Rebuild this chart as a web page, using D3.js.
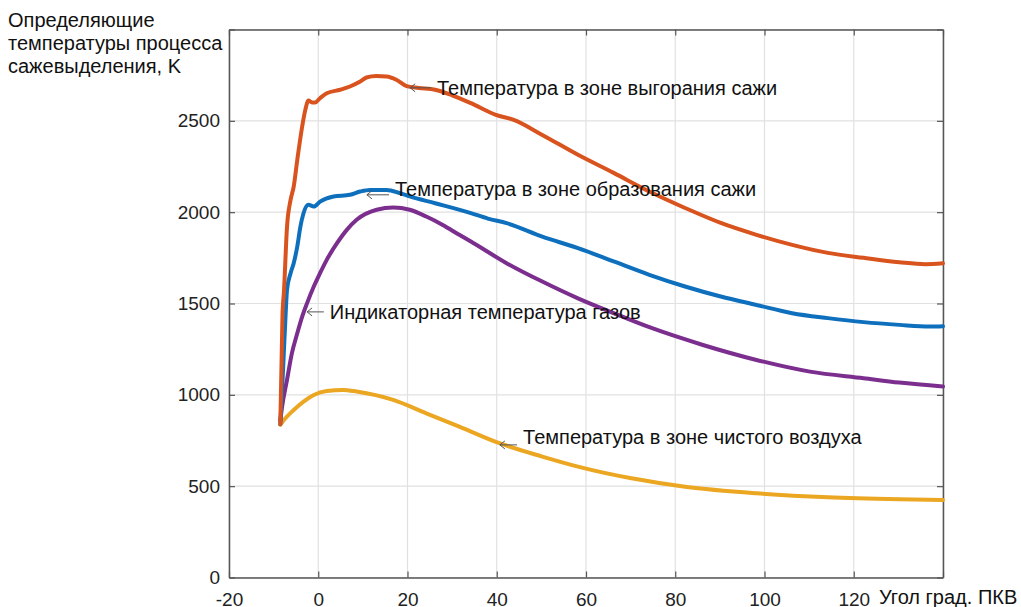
<!DOCTYPE html>
<html><head><meta charset="utf-8">
<script src="https://cdn.jsdelivr.net/npm/d3@7/dist/d3.min.js"></script>
<style>
body{margin:0;background:#fff;}
svg{display:block;font-family:"Liberation Sans",Arial,sans-serif;}
</style></head>
<body><svg id="c" width="1021" height="607"></svg>
<script>
// ---- data (angle, K) ----
const burnoutAngle = [-8.5,-8.0,-7.7,-7.0,-6.2,-5.5,-4.7,-3.6,-2.9,-2.2,-1.4,-0.7,0.4,1.9,4.9,7.1,9.4,10.8,13.0,15.3,17.5,19.8,22.5,26.2,30.0,34.2,39.8,43.8,50.2,58.2,66.2,74.2,82.2,90.2,98.2,106.2,114.2,122.2,130.2,136.0,140.0];
const burnoutTemp  = [840,1450,1560,1920,2067,2140,2286,2469,2560,2611,2600,2600,2624,2651,2670,2688,2715,2737,2745,2743,2725,2690,2680,2670,2640,2597,2533,2505,2423,2314,2215,2113,2023,1941,1876,1821,1777,1750,1726,1715,1720];

const formationAngle = [-8.5,-8.0,-7.3,-7.0,-6.2,-5.5,-4.7,-4.0,-3.3,-2.2,-1.0,0.4,3.4,7.1,9.4,11.6,15.3,18.3,20.5,26.2,34.2,38.0,42.2,50.2,58.2,66.2,74.2,82.2,90.2,98.2,106.2,114.2,122.2,130.2,137.0,140.0];
const formationTemp  = [840,1081,1447,1575,1666,1721,1812,1921,1994,2040,2031,2058,2086,2095,2113,2122,2122,2104,2086,2049,1995,1965,1940,1866,1803,1730,1657,1593,1538,1492,1447,1420,1398,1383,1374,1376];

const gasAngle = [-8.5,-8.1,-7.0,-5.9,-4.7,-3.6,-2.5,-1.0,0.4,1.9,4.2,6.4,8.6,13.1,16.8,20.5,24.2,27.9,31.6,34.2,42.2,50.2,58.2,66.2,74.2,86.2,98.2,110.2,122.2,130.2,140.0];
const gasTemp  = [860,935,1082,1228,1337,1428,1502,1593,1666,1739,1830,1903,1958,2013,2025,2013,1976,1930,1876,1839,1721,1620,1528,1447,1370,1273,1191,1127,1091,1067,1045];

const airAngle = [-8.5,-7.7,-5.5,-3.3,-1.0,1.9,5.6,8.6,16.8,24.2,31.6,40.6,50.2,58.2,70.2,82.2,98.2,114.2,130.2,140.0];
const airTemp  = [835,862,917,963,999,1021,1027,1018,972,899,826,735,662,607,543,497,461,439,428,424];

const seriesNames  = ["burnout","formation","gas","air"];
const seriesColors = ["#d9531e","#0e6fbd","#7b2e8d","#eba622"];

const xTicks = [-20,0,20,40,60,80,100,120,140];
const xTickLabels = ["-20","0","20","40","60","80","100","120",""];
const yTicks = [0,500,1000,1500,2000,2500,3000];
const yTickLabels = ["0","500","1000","1500","2000","2500",""];

const yTitle = ["Определяющие","температуры процесса","сажевыделения, K"];
const xTitle = "Угол град. ПКВ";

// annotations: label, arrow tip (angle, K), text start angle, text centre K
const annLabels = ["Температура в зоне выгорания сажи","Температура в зоне образования сажи","Индикаторная температура газов","Температура в зоне чистого воздуха"];
const annTipAngle = [20.6,10.9,-2.5,40.7];
const annTipTemp  = [2681,2095,1454,726];
const annTextAngle = [26.6,17.2,2.6,45.9];
const annTextTemp  = [2681,2128,1454,769];

// ---- drawing ----
const svg = d3.select("#c");
const L=229, R=943, T=29.5, B=577.5;
const x = d3.scaleLinear().domain([-20,140]).range([L,R]);
const y = d3.scaleLinear().domain([0,3000]).range([B,T]);

// grid
const g = svg.append("g");
g.selectAll("line.vg").data(xTicks).enter().append("line")
  .attr("x1",d=>x(d)).attr("x2",d=>x(d)).attr("y1",T).attr("y2",B)
  .attr("stroke","#e1e1e1").attr("stroke-width",1.2);
g.selectAll("line.hg").data(yTicks).enter().append("line")
  .attr("y1",d=>y(d)).attr("y2",d=>y(d)).attr("x1",L).attr("x2",R)
  .attr("stroke","#e1e1e1").attr("stroke-width",1.2);

// axes with d3 axis
const axB = d3.axisBottom(x).tickValues(xTicks).tickFormat((d,i)=>xTickLabels[i]).tickSizeInner(-6).tickSizeOuter(0).tickPadding(15);
const axL = d3.axisLeft(y).tickValues(yTicks).tickFormat((d,i)=>yTickLabels[i]).tickSizeInner(-6).tickSizeOuter(0).tickPadding(9);
const axT = d3.axisTop(x).tickValues(xTicks).tickFormat("").tickSizeInner(-6).tickSizeOuter(0);
const axR = d3.axisRight(y).tickValues(yTicks).tickFormat("").tickSizeInner(-6).tickSizeOuter(0);
[[axB,`translate(0,${B})`],[axL,`translate(${L},0)`],[axT,`translate(0,${T})`],[axR,`translate(${R},0)`]].forEach(([a,t])=>{
  const ga = svg.append("g").attr("transform",t).call(a);
  ga.selectAll("path.domain").attr("stroke","#555").attr("stroke-width",1.5);
  ga.selectAll(".tick line").attr("stroke","#555").attr("stroke-width",1.2);
  ga.selectAll("text").attr("fill","#222").style("font-size","19px").style("font-family","'Liberation Sans',Arial,sans-serif");
});

// curves
const allAngles=[burnoutAngle,formationAngle,gasAngle,airAngle];
const allTemps=[burnoutTemp,formationTemp,gasTemp,airTemp];
const line = d3.line().x(d=>x(d[0])).y(d=>y(d[1])).curve(d3.curveMonotoneX);
[3,2,1,0].forEach(i=>{
  const pts = allAngles[i].map((a,j)=>[a,allTemps[i][j]]);
  svg.append("path").datum(pts).attr("d",line)
    .attr("fill","none").attr("stroke",seriesColors[i]).attr("stroke-width",4)
    .attr("stroke-linejoin","round").attr("stroke-linecap","round");
});

// annotations
annLabels.forEach((lab,i)=>{
  const tx=x(annTipAngle[i]), ty=y(annTipTemp[i]);
  const ex=x(annTextAngle[i])-6;
  svg.append("line").attr("x1",tx).attr("y1",ty).attr("x2",ex).attr("y2",ty)
    .attr("stroke","#555").attr("stroke-width",1);
  svg.append("path").attr("d",`M${tx+5},${ty-4}L${tx},${ty}L${tx+5},${ty+4}`)
    .attr("fill","none").attr("stroke","#555").attr("stroke-width",1);
  svg.append("text").attr("x",x(annTextAngle[i])).attr("y",y(annTextTemp[i]))
    .attr("dy","0.35em").attr("fill","#111").style("font-size","20px").text(lab);
});

// titles
svg.append("g").selectAll("text").data(yTitle).enter().append("text")
  .attr("x",8).attr("y",(d,i)=>27+i*23).attr("fill","#111").style("font-size","20px").text(d=>d);
svg.append("text").attr("x",879).attr("y",604).attr("fill","#111").style("font-size","20px").text(xTitle);
</script></body></html>
